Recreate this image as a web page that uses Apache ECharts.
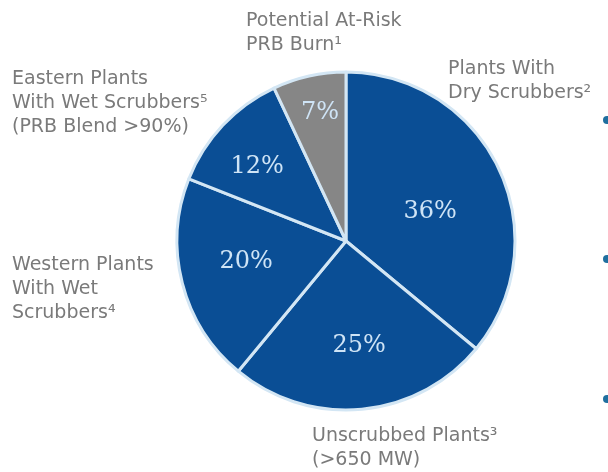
<!DOCTYPE html>
<html>
<head>
<meta charset="utf-8">
<script src="https://cdn.jsdelivr.net/npm/echarts@6/dist/echarts.min.js"></script>
<style>
  html, body { margin: 0; padding: 0; background: #ffffff; }
  #chart { width: 608px; height: 472px; }
</style>
</head>
<body>
<div id="chart"></div>
<script>
// Share of PRB coal burn by plant type (percent), clockwise from 12 o'clock
const categories = [
  'Plants With\nDry Scrubbers²',
  'Unscrubbed Plants³\n(>650 MW)',
  'Western Plants\nWith Wet\nScrubbers⁴',
  'Eastern Plants\nWith Wet Scrubbers⁵\n(PRB Blend >90%)',
  'Potential At-Risk\nPRB Burn¹'
];
const shares = [36, 25, 20, 12, 7];
const sliceColors = ['#0a4e95', '#0a4e95', '#0a4e95', '#0a4e95', '#868686'];

// where each category caption sits (left/top of its text block)
const captionAnchor = [
  [448, 57], [312, 424], [12, 253], [12, 67], [246, 9]
];
// nudges for the percentage labels inside the slices
const innerNudge = [
  [5, 8], [5, 18], [-15, -1], [-25, -14], [-7, -43]
];

const chart = echarts.init(document.getElementById('chart'), null, { renderer: 'canvas' });

const data = categories.map((name, i) => ({
  name: name,
  value: shares[i],
  itemStyle: { color: sliceColors[i] }
}));

chart.setOption({
  animation: false,
  series: [
    {
      type: 'pie',
      center: [346, 241],
      radius: [0, 169],
      startAngle: 90,
      clockwise: true,
      data: data,
      itemStyle: { borderColor: '#d3e6f4', borderWidth: 3 },
      label: {
        show: true,
        position: 'inside',
        formatter: p => p.value + '%',
        color: '#cfe4f6',
        fontFamily: 'DejaVu Serif',
        fontSize: 24
      },
      labelLine: { show: false },
      labelLayout: p => ({ dx: innerNudge[p.dataIndex][0], dy: innerNudge[p.dataIndex][1] }),
      emphasis: { disabled: true }
    },
    {
      type: 'pie',
      center: [346, 241],
      radius: [0, 169],
      startAngle: 90,
      clockwise: true,
      silent: true,
      data: categories.map((name, i) => ({ name: name, value: shares[i] })),
      itemStyle: { color: 'rgba(0,0,0,0)', borderWidth: 0 },
      label: {
        show: true,
        position: 'outside',
        formatter: p => p.name,
        color: '#7a7a7a',
        fontFamily: 'DejaVu Sans',
        fontSize: 19,
        lineHeight: 24,
        align: 'left',
        overflow: 'none',
        width: 260
      },
      labelLine: { show: false },
      labelLayout: p => ({
        x: captionAnchor[p.dataIndex][0],
        y: captionAnchor[p.dataIndex][1],
        align: 'left',
        verticalAlign: 'top'
      })
    }
  ],
  graphic: [
    { type: 'circle', shape: { cx: 607, cy: 120, r: 4 }, style: { fill: '#1f6f9f' } },
    { type: 'circle', shape: { cx: 607, cy: 259, r: 4 }, style: { fill: '#1f6f9f' } },
    { type: 'circle', shape: { cx: 607, cy: 399, r: 4 }, style: { fill: '#1f6f9f' } }
  ]
});
</script>
</body>
</html>
